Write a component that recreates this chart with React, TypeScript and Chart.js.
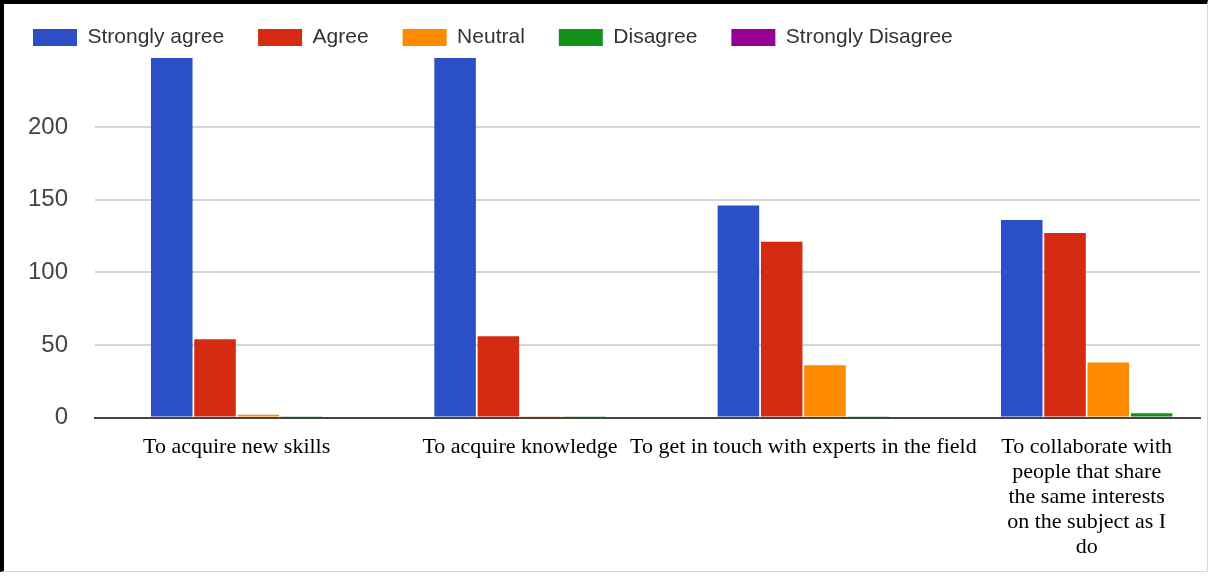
import React, { useEffect, useRef } from "react";
import { Chart, registerables } from "chart.js";

Chart.register(...registerables);

const categories: (string | string[])[] = [
  "To acquire new skills",
  "To acquire knowledge",
  "To get in touch with experts in the field",
  ["To collaborate with", "people that share", "the same interests", "on the subject as I", "do"],
];

const seriesNames = ["Strongly agree", "Agree", "Neutral", "Disagree", "Strongly Disagree"];
const stronglyAgree = [262, 258, 146, 136];
const agree = [54, 56, 121, 127];
const neutral = [2, 1, 36, 38];
const disagree = [1, 1, 1, 3];
const stronglyDisagree = [0, 0, 0, 0];

const yTicks = [0, 50, 100, 150, 200];

const colors = ["#2b4fc6", "#d42b12", "#ff8a00", "#13921a", "#950095"];

export default function App() {
  const ref = useRef<HTMLCanvasElement | null>(null);

  useEffect(() => {
    document.body.style.margin = "0";
    const canvas = ref.current;
    if (!canvas) return;
    const series = [stronglyAgree, agree, neutral, disagree, stronglyDisagree];
    const datasets = series.map((vals, si) => ({
      label: seriesNames[si],
      data: vals.map((v, i) => ({ x: i, y: v })),
      backgroundColor: colors[si],
      borderColor: colors[si],
      borderWidth: 0,
      categoryPercentage: 0.611,
      barPercentage: 0.96,
      grouped: si < 4,
    }));
    const chart = new Chart(canvas, {
      type: "bar",
      data: { datasets } as any,
      options: {
        animation: false,
        responsive: true,
        maintainAspectRatio: false,
        layout: { padding: { top: -11, left: -5, right: 7, bottom: -6 } },
        plugins: {
          tooltip: { enabled: false },
          legend: {
            position: "top",
            align: "start",
            labels: {
              boxWidth: 44,
              boxHeight: 17,
              padding: 34,
              color: "#333333",
              font: { family: "'Liberation Sans', Arial, sans-serif", size: 21 },
            },
          },
        },
        scales: {
          x: {
            type: "linear",
            offset: false,
            min: -0.5,
            max: 3.4,
            grid: { display: false, drawTicks: false, offset: false },
            border: { display: true, color: "#444444", width: 2 },
            afterBuildTicks: (axis: any) => {
              axis.ticks = categories.map((_, i) => ({ value: i }));
            },
            ticks: {
              autoSkip: false,
              maxRotation: 0,
              minRotation: 0,
              padding: 17,
              color: "#000000",
              font: { family: "'Liberation Serif', 'Times New Roman', serif", size: 22, lineHeight: 1.14 },
              callback: (value: any) => categories[Number(value)] as any,
            },
          },
          y: {
            min: 0,
            max: 247.5,
            afterFit: (axis: any) => {
              axis.width = 96;
            },
            afterBuildTicks: (axis: any) => {
              axis.ticks = yTicks.map((v) => ({ value: v }));
            },
            grid: {
              color: (ctx: any) => (ctx.tick && ctx.tick.value === 0 ? "#444444" : "#d6d6d6"),
              lineWidth: 2,
              drawTicks: false,
            },
            border: { display: false },
            ticks: {
              padding: 27,
              crossAlign: "near",
              color: "#444444",
              font: { family: "'Liberation Sans', Arial, sans-serif", size: 24 },
            },
          },
        },
      } as any,
    });
    return () => chart.destroy();
  }, []);

  return (
    <div
      style={{
        width: 1208,
        height: 572,
        boxSizing: "border-box",
        borderTop: "4px solid #000",
        borderLeft: "4px solid #000",
        borderRight: "1px solid #d8d8d8",
        borderBottom: "1px solid #d8d8d8",
        background: "#fff",
      }}
    >
      <div style={{ position: "relative", width: "100%", height: "100%" }}>
        <canvas ref={ref} />
      </div>
    </div>
  );
}
